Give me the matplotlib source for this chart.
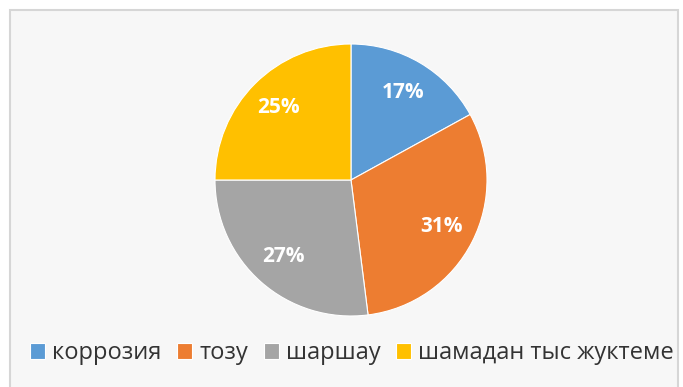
import matplotlib
matplotlib.use("Agg")
import matplotlib.pyplot as plt
from matplotlib.patches import Rectangle

plt.rcParams["font.family"] = ["Open Sans", "DejaVu Sans"]

categories = ["коррозия", "тозу", "шаршау", "шамадан тыс жуктеме"]
shares = [17, 31, 27, 25]
colors = ["#5B9BD5", "#ED7D31", "#A5A5A5", "#FFC000"]

W, H = 683, 387
fig = plt.figure(figsize=(W / 100, H / 100), dpi=100)
fig.patch.set_facecolor("white")

# chart area panel
fig.add_artist(Rectangle((10 / W, -0.05), 668 / W, 1.05 - 10 / H,
                         transform=fig.transFigure, facecolor="#f7f7f7",
                         edgecolor="#d6d6d6", linewidth=1.5, zorder=0))

cx, cy, r = 351, 180, 136
ax = fig.add_axes([(cx - r) / W, (H - cy - r) / H, 2 * r / W, 2 * r / H])
wedges, texts, autotexts = ax.pie(
    shares, colors=colors, startangle=90, counterclock=False,
    autopct=lambda p: f"{p:.0f}%", pctdistance=0.75,
    wedgeprops=dict(edgecolor="white", linewidth=0.8),
    textprops=dict(color="white", fontsize=15, fontweight="bold"),
)
ax.set_xlim(-1, 1)
ax.set_ylim(-1, 1)
ax.set_aspect("equal")

fig.legend(wedges, categories, loc="center", bbox_to_anchor=(352 / W, 1 - 353 / H),
           ncol=4, frameon=False, fontsize=17, handlelength=0.65, handleheight=0.65,
           handletextpad=0.3, columnspacing=0.65, labelcolor="#333333")

fig.savefig("out.png", dpi=100)
